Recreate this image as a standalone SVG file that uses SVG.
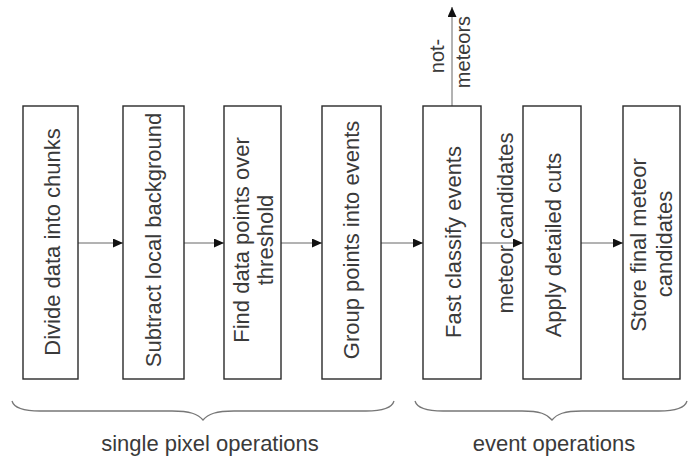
<svg xmlns="http://www.w3.org/2000/svg" width="697" height="459" viewBox="0 0 697 459">
<defs>
<style>
.box{fill:#fff;stroke:#2a2a2a;stroke-width:1.4}
.lbl{font-family:"Liberation Sans",Arial,sans-serif;font-size:22px;fill:#3a3a3a;text-anchor:middle}
.small{font-size:20px}
.conn{stroke:#666;stroke-width:1;fill:none}
.brace{stroke:#777;stroke-width:1.3;fill:none}
</style>
<marker id="ah" markerUnits="userSpaceOnUse" markerWidth="11" markerHeight="10" refX="10" refY="4.5" orient="auto">
<path d="M0,0 L10,4.5 L0,9 z" fill="#111"/>
</marker>
</defs>
<rect width="697" height="459" fill="#fff"/>
<g id="connectors">
<line class="conn" x1="78" y1="243" x2="123" y2="243" marker-end="url(#ah)"/>
<line class="conn" x1="184" y1="243" x2="224" y2="243" marker-end="url(#ah)"/>
<line class="conn" x1="281" y1="243" x2="322" y2="243" marker-end="url(#ah)"/>
<line class="conn" x1="381" y1="243" x2="423" y2="243" marker-end="url(#ah)"/>
<line class="conn" x1="481" y1="243" x2="523" y2="243" marker-end="url(#ah)"/>
<line class="conn" x1="581" y1="243" x2="623" y2="243" marker-end="url(#ah)"/>
<line class="conn" x1="452" y1="106" x2="452" y2="7" marker-end="url(#ah)"/>
<text class="lbl" transform="translate(513,223) rotate(-90)">meteor candidates</text>
<text class="lbl small" transform="translate(444,56) rotate(-90)">not-</text>
<text class="lbl small" transform="translate(470,52) rotate(-90)">meteors</text>
</g>
<g id="n1">
<rect class="box" x="23" y="106" width="55" height="273"/>
<text class="lbl" transform="translate(60,242) rotate(-90)">Divide data into chunks</text>
</g>
<g id="n2">
<rect class="box" x="123" y="106" width="61" height="273"/>
<text class="lbl" transform="translate(161,240) rotate(-90)">Subtract local background</text>
</g>
<g id="n3">
<rect class="box" x="224" y="106" width="57" height="273"/>
<text class="lbl" transform="translate(249,240) rotate(-90)">Find data points over</text>
<text class="lbl" transform="translate(273,240) rotate(-90)">threshold</text>
</g>
<g id="n4">
<rect class="box" x="322" y="106" width="59" height="273"/>
<text class="lbl" transform="translate(359,240) rotate(-90)">Group points into events</text>
</g>
<g id="n5">
<rect class="box" x="423" y="106" width="58" height="273"/>
<text class="lbl" transform="translate(461,242) rotate(-90)">Fast classify events</text>
</g>
<g id="n6">
<rect class="box" x="523" y="106" width="58" height="273"/>
<text class="lbl" transform="translate(561,245) rotate(-90)">Apply detailed cuts</text>
</g>
<g id="n7">
<rect class="box" x="623" y="106" width="57" height="273"/>
<text class="lbl" transform="translate(646,245) rotate(-90)">Store final meteor</text>
<text class="lbl" transform="translate(672,244) rotate(-90)">candidates</text>
</g>
<g id="groups">
<path class="brace" d="M12,401 C14,408 24,411 40,411 L172,411 C190,411 198,414 203,420 C208,414 216,411 234,411 L366,411 C382,411 392,408 394,401"/>
<path class="brace" d="M415,401 C417,408 427,411 443,411 L522,411 C540,411 547,414 552,420 C557,414 564,411 582,411 L659,411 C675,411 685,408 687,401"/>
<text class="lbl" x="210" y="451">single pixel operations</text>
<text class="lbl" x="554" y="451">event operations</text>
</g>
</svg>
